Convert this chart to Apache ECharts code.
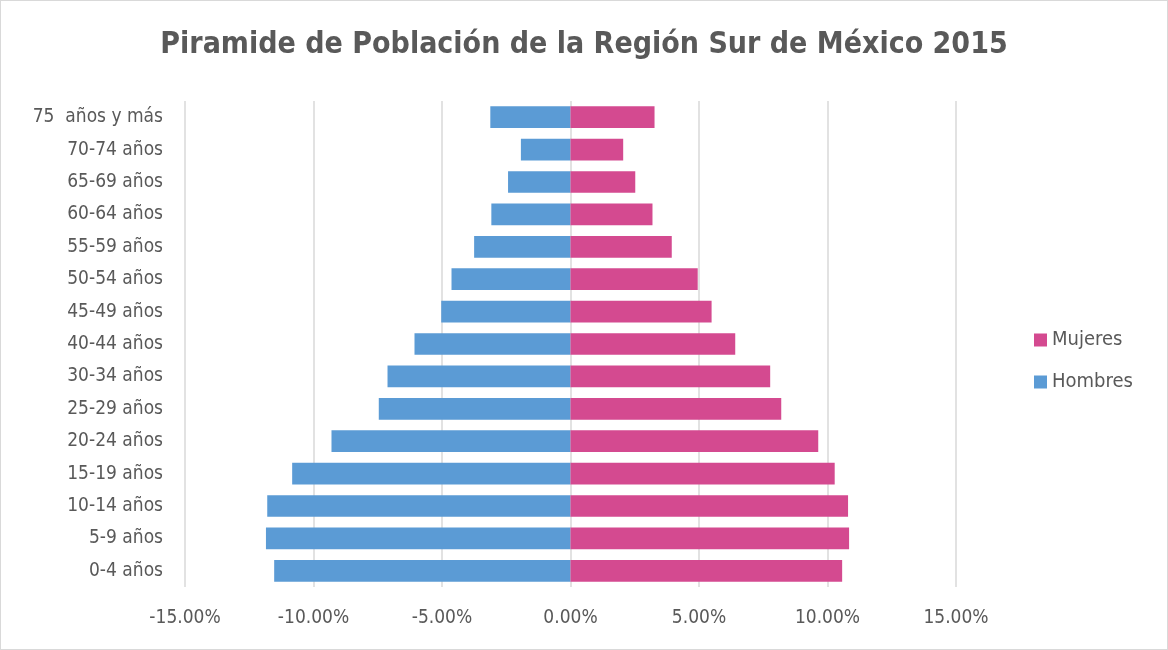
<!DOCTYPE html>
<html>
<head>
<meta charset="utf-8">
<script src="https://cdn.jsdelivr.net/npm/echarts@6/dist/echarts.min.js"></script>
<style>
  html, body { margin: 0; padding: 0; background: #fff; }
  #chart { width: 1166px; height: 648px; border: 1px solid #d9d9d9; }
</style>
</head>
<body>
<div id="chart"></div>
<script>
// grupos de edad, de abajo hacia arriba
var grupos = ['0-4 años', '5-9 años', '10-14 años', '15-19 años', '20-24 años', '25-29 años',
  '30-34 años', '40-44 años', '45-49 años', '50-54 años', '55-59 años', '60-64 años',
  '65-69 años', '70-74 años', '75  años y más'];
// porcentaje de hombres (negativo para el lado izquierdo)
var hombres = [-11.53, -11.85, -11.80, -10.83, -9.30, -7.46, -7.12, -6.07, -5.03, -4.63,
  -3.75, -3.08, -2.43, -1.93, -3.12];
// porcentaje de mujeres
var mujeres = [10.57, 10.84, 10.80, 10.28, 9.64, 8.20, 7.77, 6.41, 5.49, 4.95,
  3.94, 3.19, 2.52, 2.05, 3.27];
var ticks = [-15, -10, -5, 0, 5, 10, 15];

var fuente = "'Liberation Sans Narrow', 'DejaVu Sans Condensed', 'Liberation Sans', sans-serif";
var chart = echarts.init(document.getElementById('chart'));

var option = {
  animation: false,
  textStyle: { fontFamily: fuente },
  title: {
    text: 'Piramide de Población de la Región Sur de México 2015',
    left: 'center',
    top: 24,
    textStyle: { fontFamily: fuente, fontSize: 30, fontWeight: 'bold', color: '#595959' }
  },
  legend: {
    data: ['Mujeres', 'Hombres'],
    orient: 'vertical',
    left: 1028,
    top: 324,
    itemWidth: 13,
    itemHeight: 13,
    itemGap: 22,
    icon: 'rect',
    textStyle: { fontFamily: fuente, fontSize: 20, color: '#595959' }
  },
  grid: { left: 184, right: 211, top: 100, bottom: 62 },
  xAxis: {
    type: 'value',
    min: ticks[0],
    max: ticks[ticks.length - 1],
    interval: 5,
    axisLine: { show: false },
    axisTick: { show: false },
    splitLine: { lineStyle: { color: '#d9d9d9', width: 1.5 } },
    axisLabel: {
      margin: 22,
      fontSize: 19,
      color: '#595959',
      fontFamily: fuente,
      formatter: function (v) { return v.toFixed(2) + '%'; }
    }
  },
  yAxis: {
    type: 'category',
    data: grupos,
    axisLine: { show: false },
    axisTick: { show: false },
    axisLabel: { margin: 22, fontSize: 19, color: '#595959', fontFamily: fuente }
  },
  series: [
    {
      name: 'Hombres',
      type: 'bar',
      stack: 'total',
      barCategoryGap: '33%',
      itemStyle: { color: '#5b9bd5' },
      data: hombres
    },
    {
      name: 'Mujeres',
      type: 'bar',
      stack: 'total',
      barCategoryGap: '33%',
      itemStyle: { color: '#d44a90' },
      data: mujeres
    }
  ]
};
chart.setOption(option);
</script>
</body>
</html>
